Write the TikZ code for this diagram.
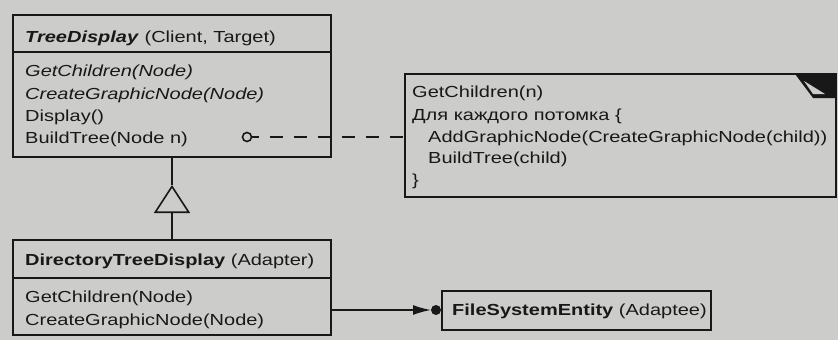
\documentclass[tikz,border=0pt]{standalone}
\usepackage{fontspec}
\setmainfont[FakeStretch=1.25]{Liberation Sans}
\usetikzlibrary{arrows.meta}
\definecolor{bg}{RGB}{204,204,202}
\definecolor{ink}{RGB}{24,24,24}
\begin{document}
\begin{tikzpicture}[x=1pt,y=-1pt,
  line/.style={draw=ink,line width=1.6pt},
  box/.style={line,anchor=north west,inner sep=0pt,outer sep=0pt},
  txt/.style={anchor=base west,inner sep=0pt,text=ink,font=\fontsize{16}{19}\selectfont}]
\fill[bg] (0,0) rectangle (838,340);
\useasboundingbox (0,0) rectangle (838,340);
% coordinates for horizontal levels
\coordinate (tdsep) at (0,52);
\coordinate (dtdsep) at (0,278);
\coordinate (apexy) at (0,185);
\coordinate (arry) at (0,310);
% TreeDisplay
\node[box,minimum width=318pt,minimum height=142pt] (td) at (13,15) {};
\draw[line] (td.west |- tdsep) -- (td.east |- tdsep);
\node[txt] (tdh) at (25,42) {\textbf{\textit{TreeDisplay}} (Client, Target)};
\node[txt] (tdm1) at (25,76) {\textit{GetChildren(Node)}};
\node[txt] (tdm2) at (25,99) {\textit{CreateGraphicNode(Node)}};
\node[txt] (tdm3) at (25,121) {Display()};
\node[txt] (tdm4) at (25,143) {BuildTree(Node n)};
% note
\node[box,minimum width=431pt,minimum height=123pt] (note) at (405,74) {};
\fill[ink] ([xshift=-41pt]note.north east) -- (note.north east) -- ([yshift=-24pt]note.north east) -- ([xshift=-23pt,yshift=-24pt]note.north east) -- cycle;
\fill[bg] ([xshift=-32pt,yshift=-7pt]note.north east) -- ([xshift=-11pt,yshift=-20pt]note.north east) -- ([xshift=-23pt,yshift=-20pt]note.north east) -- cycle;
\node[txt] (n1) at (412,97) {GetChildren(n)};
\node[txt] (n2) at (412,120) {Для каждого потомка \{};
\node[txt] (n3) at (428,142) {AddGraphicNode(CreateGraphicNode(child))};
\node[txt] (n4) at (428,163) {BuildTree(child)};
\node[txt] (n5) at (412,185) {\}};
% circle and dashed connector
\node[circle,line,minimum size=9pt,inner sep=0pt,outer sep=0pt] (oc) at (247,137) {};
\draw[line,dash pattern=on 13pt off 11pt,dash phase=6pt] (oc.east) -- (oc.east -| note.west);
% DirectoryTreeDisplay
\node[box,minimum width=318pt,minimum height=95pt] (dtd) at (13,240) {};
\draw[line] (dtd.west |- dtdsep) -- (dtd.east |- dtdsep);
\node[txt] (dh) at (25,265) {\textbf{DirectoryTreeDisplay} (Adapter)};
\node[txt] (dm1) at (25,302) {GetChildren(Node)};
\node[txt] (dm2) at (25,325) {CreateGraphicNode(Node)};
% generalization
\coordinate (apex) at (td.south |- apexy);
\draw[line] (td.south) -- (apex);
\draw[line,-{Triangle[open,length=28pt,width=36pt]}] (dtd.north) -- (apex);
% FileSystemEntity
\node[box,minimum width=269pt,minimum height=39pt] (fse) at (442,291) {};
\node[txt] (fh) at (452,315) {\textbf{FileSystemEntity} (Adaptee)};
\node[circle,fill=ink,minimum size=10pt,inner sep=0pt,outer sep=0pt] (dot) at (436,310) {};
\draw[line,-{Latex[length=18pt,width=10pt]}] (dtd.east |- arry) -- (dot.west);
\end{tikzpicture}
\end{document}
